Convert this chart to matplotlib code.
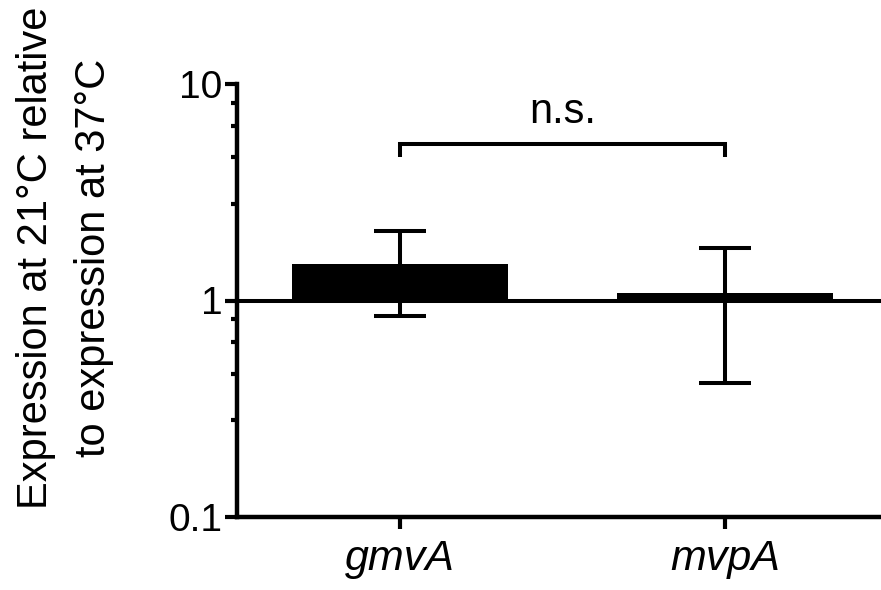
import matplotlib
matplotlib.use("Agg")
import matplotlib.pyplot as plt
from matplotlib.ticker import NullFormatter, FixedLocator

plt.rcParams['font.family'] = ['Liberation Sans', 'DejaVu Sans']

genes = ["gmvA", "mvpA"]
means = [1.47, 1.08]
err_low = [0.85, 0.418]
err_high = [2.09, 1.75]
bracket_y = 5.3
bracket_drop = 4.6
sig_label = "n.s."
ytick_vals = [0.1, 1, 10]
ytick_labels = ["0.1", "1", "10"]
minor_ticks = [0.28, 0.46, 0.64, 0.82, 2.8, 4.6, 6.4, 8.2]

W, H = 881, 590
fig = plt.figure(figsize=(W / 100, H / 100), dpi=100)
left_px, right_px, top_px, bot_px = 237, 881, 84, 517
ax = fig.add_axes([left_px / W, (H - bot_px) / H, (right_px - left_px) / W, (bot_px - top_px) / H])

x = [0, 1]
ax.set_yscale('log')
ax.set_ylim(0.1, 10)
ax.set_xlim(-0.5015, 1.48)

LW = 2.9
heights = [m - 1 for m in means]
ax.bar(x, heights, bottom=1, width=0.666, color='black', edgecolor='black', linewidth=0, zorder=2)
yerr = [[m - l for m, l in zip(means, err_low)], [h - m for m, h in zip(means, err_high)]]
ax.errorbar(x, means, yerr=yerr, fmt='none', ecolor='black', elinewidth=LW,
            capsize=19, capthick=LW, zorder=3)
ax.axhline(1, color='black', lw=LW, zorder=4)

# significance bracket
ax.plot([x[0], x[0], x[1], x[1]], [bracket_drop, bracket_y, bracket_y, bracket_drop],
        color='black', lw=LW, solid_joinstyle='miter', solid_capstyle='butt', clip_on=False)
ax.text(0.5, 6.6, sig_label, ha='center', va='baseline', fontsize=30)

for s in ['top', 'right']:
    ax.spines[s].set_visible(False)
for s in ['left', 'bottom']:
    ax.spines[s].set_linewidth(3.2)

ax.yaxis.set_major_locator(FixedLocator(ytick_vals))
ax.set_yticklabels(ytick_labels)
ax.yaxis.set_minor_locator(FixedLocator(minor_ticks))
ax.yaxis.set_minor_formatter(NullFormatter())
ax.tick_params(axis='y', which='major', length=8.6, width=3, labelsize=28, pad=2)
ax.tick_params(axis='y', which='minor', length=4.5, width=3)
ax.set_xticks(x)
ax.set_xticklabels(genes, fontsize=31, style='italic')
ax.tick_params(axis='x', which='major', length=8.6, width=3, pad=7)

fig.text(65 / W, (H - 258) / H, "Expression at 21\u00b0C relative\nto expression at 37\u00b0C",
         rotation=90, ha='center', va='center', multialignment='center',
         fontsize=30, linespacing=1.55)

fig.savefig("out.png", dpi=100)
